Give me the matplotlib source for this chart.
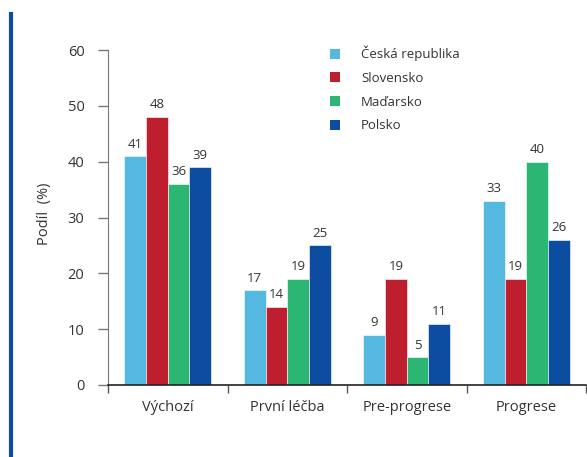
import numpy as np
import matplotlib
matplotlib.use("Agg")
import matplotlib.pyplot as plt
from matplotlib.lines import Line2D
from matplotlib.patches import Patch

plt.rcParams['font.family'] = ['Open Sans', 'DejaVu Sans']

categories = ["Výchozí", "První léčba", "Pre-progrese", "Progrese"]
series_names = ["Česká republika", "Slovensko", "Maďarsko", "Polsko"]
cz = [41, 17, 9, 33]
sk = [48, 14, 19, 19]
hu = [36, 19, 5, 40]
pl = [39, 25, 11, 26]
series = [cz, sk, hu, pl]
colors = ["#55b8e0", "#be1e2d", "#2bb673", "#0d4da1"]
y_ticks = [0, 10, 20, 30, 40, 50, 60]

text_color = "#333333"

fig = plt.figure(figsize=(5.87, 4.57), dpi=100)
ax = fig.add_axes([108 / 587, 1 - 385 / 457, 478 / 587, 335 / 457])

n = len(series)
bar_w = 0.182
x = np.arange(len(categories))
for i, (vals, col) in enumerate(zip(series, colors)):
    offs = (i - (n - 1) / 2) * bar_w
    bars = ax.bar(x + offs, vals, width=bar_w, color=col,
                  edgecolor="white", linewidth=0.4, label=series_names[i], zorder=2)
    for b, v in zip(bars, vals):
        ax.annotate(str(v), (b.get_x() + b.get_width() / 2, v),
                    xytext=(0, 4), textcoords="offset points",
                    ha="center", va="bottom", fontsize=9.5, color=text_color)

ax.set_xlim(-0.5, len(categories) - 0.5)
ax.set_ylim(0, 60)
ax.set_yticks(y_ticks)
ax.tick_params(axis="y", direction="out", length=7, width=1, color="#777777",
               labelsize=10.5, labelcolor=text_color, pad=10)

# category boundaries as ticks, labels centred under each group
ax.set_xticks(np.arange(len(categories) + 1) - 0.5)
ax.set_xticklabels([])
ax.set_xticks(x, minor=True)
ax.set_xticklabels(categories, minor=True, fontsize=10.5, color=text_color)
ax.tick_params(axis="x", which="major", direction="out", length=6, width=1, color="#555555")
ax.tick_params(axis="x", which="minor", length=0, pad=11)

for s in ["top", "right"]:
    ax.spines[s].set_visible(False)
ax.spines["left"].set_color("#777777")
ax.spines["bottom"].set_color("#222222")
ax.spines["bottom"].set_linewidth(1.2)

ax.set_ylabel("Podíl  (%)", fontsize=10.5, color=text_color)
ax.yaxis.set_label_coords(-0.118, 0.51)

handles = [Patch(facecolor=c, edgecolor="none") for c in colors]
leg = ax.legend(handles, series_names, loc="upper left",
                bbox_to_anchor=(0.464, 1.012), frameon=False, fontsize=9.5,
                handlelength=0.78, handleheight=0.78, handletextpad=1.6,
                labelspacing=0.8, borderpad=0, borderaxespad=0)
for t in leg.get_texts():
    t.set_color(text_color)

# accent bar along the left edge
fig.add_artist(Line2D([11 / 587, 11 / 587], [0, 1 - 14 / 457],
                      transform=fig.transFigure, color="#0d4da1", linewidth=3))

fig.savefig("out.png", dpi=100)
